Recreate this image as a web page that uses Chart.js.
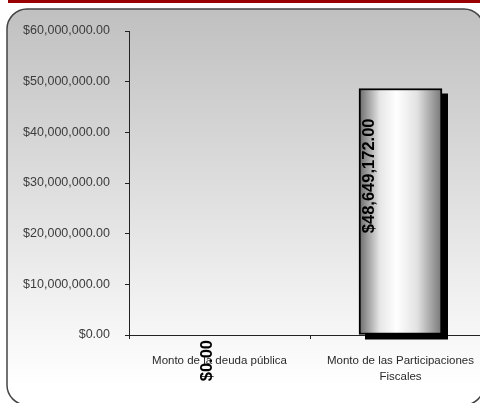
<!DOCTYPE html>
<html>
<head>
<meta charset="utf-8">
<script src="https://cdn.jsdelivr.net/npm/chart.js@4/dist/chart.umd.min.js"></script>
<style>
  html, body { margin: 0; padding: 0; background: #fff; overflow: hidden; }
  #wrap { width: 480px; height: 403px; overflow: hidden; }
</style>
</head>
<body>
<div id="wrap"><canvas id="chartMontos" width="500" height="403"></canvas></div>
<script>
const categorias = ['Monto de la deuda pública', ['Monto de las Participaciones', 'Fiscales']]
const montos = [0, 48649172]
const ejeMax = 60000000
const ejePaso = 10000000

function moneda(v) {
    return '$' + v.toLocaleString('en-US', {minimumFractionDigits: 2, maximumFractionDigits: 2})
}

// fondo redondeado con degradado y franja roja arriba
const fondo = {
    id: 'fondo',
    beforeDraw(chart) {
        const c = chart.ctx
        c.save()
        c.fillStyle = '#990000'
        c.fillRect(8, 0, 492, 3)
        const x = 7, y = 9, w = 477, h = 396, r = 20
        const g = c.createLinearGradient(0, y, 0, y + h - 20)
        g.addColorStop(0, '#c0c0c0')
        g.addColorStop(1, '#ffffff')
        c.beginPath()
        c.roundRect(x, y, w, h, r)
        c.fillStyle = g
        c.fill()
        c.lineWidth = 1.5
        c.strokeStyle = '#444'
        c.stroke()
        c.restore()
    },
    beforeDatasetsDraw(chart) {
        const c = chart.ctx
        c.save()
        c.fillStyle = '#000'
        chart.getDatasetMeta(0).data.forEach(function (bar, i) {
            if (!montos[i]) return
            c.fillRect(bar.x - bar.width / 2 + 6, bar.y + 5, bar.width, bar.base - bar.y)
        })
        c.restore()
    },
    afterDatasetsDraw(chart) {
        const c = chart.ctx
        c.save()
        c.fillStyle = '#000'
        c.font = 'bold 16.5px "Liberation Sans", Arial, sans-serif'
        c.textBaseline = 'middle'
        chart.getDatasetMeta(0).data.forEach(function (bar, i) {
            const txt = moneda(montos[i])
            c.save()
            if (montos[i]) {
                c.translate(bar.x - bar.width / 2 + 10, bar.y + 30)
            } else {
                c.translate(bar.x - 12, bar.base + 5)
            }
            c.rotate(-Math.PI / 2)
            c.textAlign = 'right'
            c.fillText(txt, 0, 0)
            c.restore()
        })
        c.restore()
    }
}

function degradadoBarra(ctx) {
    const chart = ctx.chart
    const sx = chart.scales.x
    if (!sx || ctx.dataIndex === undefined) return '#dddddd'
    const cx = sx.getPixelForValue(ctx.dataIndex)
    if (!isFinite(cx)) return '#dddddd'
    const g = chart.ctx.createLinearGradient(cx - 41.5, 0, cx + 41.5, 0)
    g.addColorStop(0, '#6a6a6a')
    g.addColorStop(0.25, '#e6e6e6')
    g.addColorStop(0.45, '#ffffff')
    g.addColorStop(0.7, '#e2e2e2')
    g.addColorStop(1, '#767676')
    return g
}

var ctxMontos = document.getElementById('chartMontos').getContext('2d');
var chartMontos = new Chart(ctxMontos, {
    type: 'bar',
    data: {
        labels: categorias,
        datasets: [{
            data: montos,
            backgroundColor: degradadoBarra,
            borderColor: '#000',
            borderWidth: 2,
            borderSkipped: false,
            barThickness: 83
        }]
    },
    options: {
        responsive: false,
        animation: false,
        layout: { padding: { top: 31, right: 9, left: 0, bottom: 0 } },
        plugins: { legend: { display: false }, tooltip: { enabled: false } },
        scales: {
            y: {
                min: 0,
                max: ejeMax,
                afterFit: function (s) { s.width = 129 },
                ticks: {
                    stepSize: ejePaso,
                    padding: 15,
                    color: '#3c3c3c',
                    font: { family: '"Liberation Sans", Arial, sans-serif', size: 12.5 },
                    callback: function (v) { return moneda(v) }
                },
                grid: { drawOnChartArea: false, tickLength: 4, color: '#222' },
                border: { color: '#222', width: 1 }
            },
            x: {
                afterFit: function (s) { s.height = 68 },
                ticks: {
                    padding: 14,
                    maxRotation: 0,
                    autoSkip: false,
                    color: '#2a2a2a',
                    font: { family: '"Liberation Sans", Arial, sans-serif', size: 11.5, lineHeight: 1.4 }
                },
                grid: { drawOnChartArea: false, offset: true, tickLength: 4, color: '#222' },
                border: { color: '#222', width: 1 }
            }
        }
    },
    plugins: [fondo]
});
chartMontos.update();
</script>
</body>
</html>
